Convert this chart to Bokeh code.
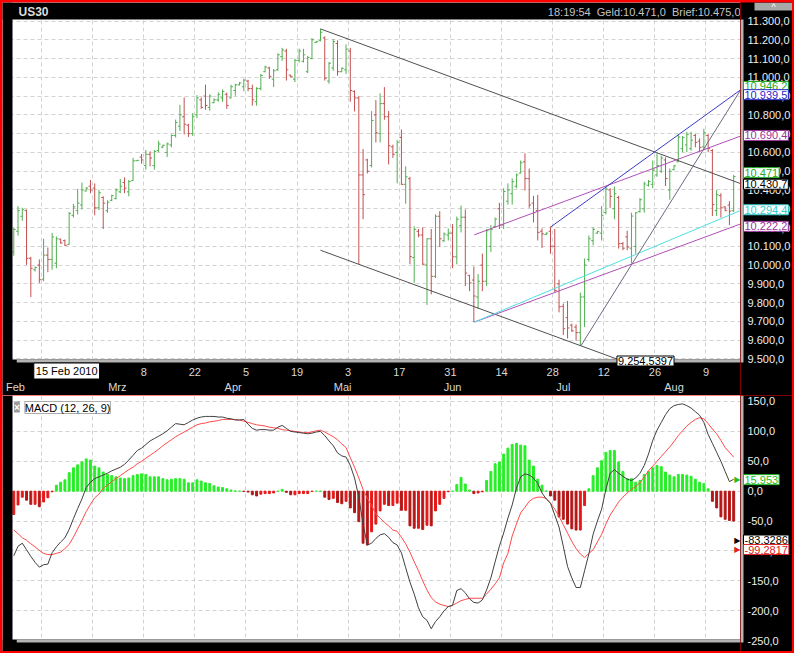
from bokeh.plotting import figure
from bokeh.models import ColumnDataSource, FixedTicker, Grid, Label, Range1d
from bokeh.layouts import column, row
from bokeh.embed import file_html
from bokeh.resources import INLINE
from bokeh.core.properties import value

FONT = "Liberation Sans"

# ---------------- data ----------------
bar_open = [
    10070, 10180, 10260, 10290, 10036, 9975, 10000, 9925, 10053, 10030,
    10010, 10138, 10130, 10110, 10265, 10290, 10320, 10395, 10420, 10410,
    10305, 10360, 10290, 10345, 10355, 10390, 10440, 10390, 10450, 10556,
    10575, 10530, 10590, 10530, 10610, 10628, 10600, 10640, 10690, 10740,
    10790, 10745, 10700, 10800, 10880, 10900, 10840, 10865, 10880, 10890,
    10910, 10890, 10930, 10960, 10950, 10980, 10940, 10870, 10940, 11030,
    11050, 10990, 11040, 11110, 11140, 11012, 10990, 11090, 11085, 11030,
    11100, 11185, 11195, 11210, 10980, 11050, 11180, 11030, 11040, 11140,
    10925, 10890, 10480, 10560, 10530, 10800, 10700, 10860, 10790, 10630,
    10600, 10680, 10430, 10460, 10040, 10180, 10160, 10000, 10140, 9940,
    10260, 10130, 10160, 10170, 10044, 10210, 10255, 9945, 9920, 9830,
    10000, 9914, 10100, 10205, 10300, 10213, 10340, 10380, 10420, 10490,
    10550, 10460, 10330, 10290, 10180, 10162, 10180, 10100, 9900, 9780,
    9720, 9680, 9670, 9640, 9830, 10030, 10130, 10170, 10170, 10280,
    10400, 10300, 10360, 10115, 10150, 10090, 10100, 10285, 10300, 10425,
    10430, 10480, 10500, 10560, 10400, 10508, 10550, 10620, 10640, 10620,
    10690, 10660, 10630, 10690, 10610, 10290, 10370, 10310, 10320, 10290,
]
bar_high = [
    10200, 10314, 10305, 10296, 10044, 9992, 10030, 10140, 10093, 10171,
    10152, 10140, 10136, 10282, 10326, 10406, 10439, 10415, 10453, 10435,
    10401, 10366, 10345, 10375, 10409, 10458, 10467, 10453, 10571, 10560,
    10592, 10613, 10606, 10613, 10662, 10641, 10653, 10696, 10775, 10853,
    10893, 10752, 10809, 10905, 10893, 10961, 10909, 10888, 10919, 10935,
    10919, 10961, 10966, 10975, 10992, 10987, 10961, 10948, 11018, 11062,
    11056, 11044, 11128, 11157, 11152, 11013, 11100, 11152, 11152, 11114,
    11209, 11192, 11258, 11218, 11082, 11204, 11197, 11053, 11175, 11157,
    10931, 10901, 10618, 10566, 10820, 10879, 10914, 10948, 10821, 10641,
    10665, 10722, 10526, 10470, 10206, 10192, 10201, 10143, 10192, 10270,
    10287, 10174, 10195, 10218, 10258, 10317, 10296, 9948, 9992, 9952,
    10061, 10192, 10213, 10253, 10331, 10409, 10435, 10461, 10488, 10557,
    10595, 10514, 10369, 10374, 10195, 10174, 10205, 10192, 9922, 9795,
    9809, 9688, 9684, 9853, 10035, 10157, 10201, 10183, 10314, 10418,
    10409, 10418, 10369, 10122, 10183, 10279, 10282, 10357, 10444, 10453,
    10557, 10595, 10583, 10574, 10514, 10534, 10696, 10687, 10710, 10710,
    10700, 10675, 10726, 10700, 10618, 10400, 10383, 10313, 10340, 10480,
]
bar_low = [
    10050, 10157, 10236, 10001, 9830, 9966, 9905, 9914, 9962, 9975,
    9983, 10114, 10102, 10109, 10253, 10270, 10296, 10392, 10383, 10265,
    10293, 10192, 10279, 10340, 10349, 10383, 10383, 10366, 10449, 10555,
    10540, 10508, 10526, 10508, 10601, 10623, 10575, 10627, 10679, 10714,
    10696, 10682, 10688, 10783, 10832, 10827, 10822, 10862, 10870, 10870,
    10832, 10888, 10902, 10957, 10926, 10926, 10849, 10849, 10931, 11027,
    10992, 10948, 11035, 11088, 10983, 11001, 10975, 11079, 11079, 11023,
    11096, 11183, 11192, 10983, 10966, 11035, 11009, 11027, 11018, 10870,
    10818, 10004, 10244, 10488, 10520, 10653, 10653, 10774, 10536, 10571,
    10435, 10427, 10327, 10004, 9905, 10148, 10001, 9788, 9844, 9931,
    10096, 10122, 10131, 9983, 10004, 10174, 9888, 9861, 9696, 9766,
    9861, 9888, 10070, 10201, 10192, 10192, 10322, 10322, 10409, 10488,
    10397, 10305, 10227, 10131, 10091, 10160, 10060, 9853, 9748, 9627,
    9609, 9644, 9597, 9569, 9670, 10018, 10105, 10166, 10131, 10270,
    10305, 10244, 10088, 10079, 10079, 10009, 10061, 10279, 10279, 10418,
    10409, 10470, 10491, 10421, 10348, 10505, 10548, 10601, 10601, 10609,
    10627, 10601, 10618, 10601, 10261, 10261, 10253, 10287, 10213, 10282,
]
bar_close = [
    10190, 10290, 10295, 10036, 9983, 9988, 9922, 10053, 10030, 10150,
    10140, 10118, 10105, 10275, 10310, 10330, 10400, 10410, 10400, 10305,
    10385, 10330, 10335, 10370, 10400, 10420, 10410, 10445, 10555, 10558,
    10560, 10590, 10570, 10605, 10645, 10638, 10645, 10690, 10760, 10800,
    10750, 10700, 10790, 10890, 10840, 10850, 10900, 10880, 10910, 10925,
    10850, 10950, 10960, 10970, 10985, 10940, 10880, 10940, 11010, 11055,
    11005, 11035, 11120, 11145, 11040, 11003, 11090, 11140, 11120, 11105,
    11200, 11190, 11240, 10995, 11075, 11190, 11030, 11048, 11150, 10930,
    10890, 10480, 10375, 10500, 10770, 10705, 10860, 10790, 10635, 10590,
    10655, 10430, 10470, 10045, 10190, 10160, 10005, 10140, 9940, 10260,
    10140, 10165, 10170, 10044, 10244, 10255, 9957, 9905, 9835, 9914,
    9914, 10183, 10190, 10245, 10213, 10392, 10400, 10444, 10480, 10545,
    10461, 10320, 10279, 10174, 10166, 10170, 10100, 9865, 9778, 9661,
    9665, 9650, 9640, 9830, 10000, 10140, 10190, 10178, 10265, 10405,
    10366, 10380, 10114, 10090, 10096, 10261, 10279, 10348, 10432, 10445,
    10505, 10530, 10570, 10461, 10500, 10528, 10682, 10679, 10696, 10665,
    10653, 10627, 10705, 10620, 10322, 10374, 10305, 10290, 10287, 10471,
]
macd_line = [
    -108, -92, -87, -98, -109, -119, -127, -123, -122, -103,
    -93, -85, -78, -64, -46, -29, -13, 6, 15, 21,
    24, 27, 30, 34, 37, 40, 45, 52, 60, 68,
    72, 78, 84, 88, 92, 96, 101, 107, 113, 112,
    111, 115, 119, 122, 124, 125, 125, 125, 124, 124,
    122, 121, 119, 119, 120, 112, 105, 102, 103, 103,
    102, 102, 107, 110, 105, 100, 99, 98, 97, 96,
    97, 99, 100, 93, 84, 76, 64, 59, 57, 43,
    22, -10, -55, -90, -87, -79, -73, -71, -77, -86,
    -90, -103, -128, -152, -172, -195, -210, -216, -230, -218,
    -210, -200, -193, -191, -166, -163, -170, -180, -186, -187,
    -182, -165, -145, -118, -92, -70, -45, -23, 5, 24,
    29, 27, 22, 13, -3, -13, -20, -40, -60, -92,
    -126, -145, -161, -161, -133, -105, -72, -50, -30, 3,
    30, 36, 30, 25, 20, 18, 22, 30, 43, 62,
    85, 102, 115, 128, 138, 143, 145, 146, 143, 139,
    133, 127, 115, 95, 80, 65, 50, 33, 16, 20,
]
signal_line = [
    -65, -71, -78, -82, -88, -93, -99, -104, -106, -106,
    -104, -102, -96, -89, -77, -63, -49, -34, -22, -11,
    -5, 5, 10, 16, 21, 26, 31, 36, 40, 46,
    50, 55, 60, 65, 70, 76, 81, 86, 91, 95,
    99, 103, 107, 111, 113, 114, 116, 117, 118, 120,
    120, 120, 120, 119, 117, 115, 113, 111, 110, 109,
    107, 106, 105, 103, 102, 101, 100, 99, 98, 98,
    99, 101, 102, 99, 95, 91, 86, 79, 73, 56,
    40, 22, 3, -12, -24, -38, -45, -52, -58, -65,
    -67, -77, -88, -102, -118, -133, -150, -165, -178, -185,
    -189, -191, -193, -191, -187, -183, -181, -179, -179, -179,
    -179, -172, -164, -155, -145, -120, -104, -75, -55, -36,
    -27, -17, -12, -10, -10, -12, -20, -30, -42, -56,
    -70, -84, -96, -105, -111, -104, -98, -85, -72, -55,
    -40, -29, -18, -10, -3, 3, 8, 14, 24, 34,
    42, 50, 58, 66, 74, 83, 93, 101, 109, 115,
    120, 123, 121, 113, 104, 96, 85, 73, 65, 57,
]
histogram = [
    -39, -23, -10, -15, -22, -22, -26, -18, -11, -1,
    10, 15, 19, 31, 39, 44, 49, 54, 52, 42,
    39, 32, 28, 26, 24, 22, 21, 22, 26, 28,
    29, 28, 24, 24, 24, 21, 19, 20, 21, 21,
    20, 14, 14, 19, 17, 14, 13, 9, 7, 6,
    4, 2, 0.5, 0, -0.5, -1.5, -6, -8, -5, -4,
    -4, -3, 0, 3, -2, -6, -6, -4, -4, -4,
    -0.5, 0, 0, -10, -14, -12, -19, -21, -17, -28,
    -36, -51, -87, -90, -68, -55, -33, -22, -24, -24,
    -20, -32, -32, -58, -62, -62, -64, -57, -58, -33,
    -22, -12, -1, 0, 11, 23, 12, 2, -4, -3,
    -1, 18, 33, 46, 49, 62, 72, 78, 80, 77,
    76, 52, 42, 20, 10, 0.5, -8, -15, -43, -47,
    -55, -63, -65, -65, -24, 4, 26, 39, 51, 65,
    68, 68, 49, 33, 21, 21, 15, 18, 28, 33,
    39, 43, 41, 32, 27, 24, 28, 28, 27, 25,
    20, 15, 13, 4, -17, -28, -43, -47, -49, -50,
]

# axis ticks and labels
day_tick_pos = [6.5 + 12 * k for k in range(14)]
day_tick_labels = ["8", "22", "8", "22", "5", "19", "3", "17", "31", "14", "28", "12", "26", "9"]
month_tick_pos = [0.4, 24.3, 51.5, 77.2, 103.0, 129.0, 155.0]
month_tick_labels = ["Feb", "Mrz", "Apr", "Mai", "Jun", "Jul", "Aug"]
price_ticks = list(range(9500, 11301, 100))
macd_ticks = list(range(-250, 151, 50))

# drawn trend lines (bar index, price)
upper_channel_x = [72, 171]
upper_channel_y = [11258, 10430.7]
lower_channel_x = [72, 171]
lower_channel_y = [10079, 9254.5397]
purple_upper_x = [108.1, 171]
purple_upper_y = [10161, 10690.4]
purple_lower_x = [108.1, 171]
purple_lower_y = [9696, 10222.2]
cyan_x = [108.1, 171]
cyan_y = [9696, 10294.4]
blue_x = [126.1, 171]
blue_y = [10204, 10939.5]
steep_x = [133.1, 171]
steep_y = [9569, 10946.2]

# value marks on the right scales: (value, text, colour, vertical nudge px)
price_marks = [
    (10946.2, "10.946,2", "#22aa22", 1),
    (10939.5, "10.939,5", "#2828c8", -6),
    (10690.4, "10.690,4", "#993399", 0),
    (10471.0, "10.471", "#22aa22", 4),
    (10430.7, "10.430,7", "#000000", 0),
    (10294.4, "10.294,4", "#33cccc", 0),
    (10222.2, "10.222,2", "#993399", -3),
]
macd_marks = [
    (15.953, "15,953", "#22bb22", 2),
    (-83.3286, "-83,3286", "#000000", 1),
    (-99.2817, "-99,2817", "#dd2222", 1),
]


def de(v, d=1):
    s = f"{v:,.{d}f}"
    return s.replace(",", "#").replace(".", ",").replace("#", ".")


# ---------------- geometry ----------------
LEFT_W, PLOT_W, AX_W = 10, 728, 52
TITLE_H, PRICE_H, BAND_H = 17, 340, 36
MACD_H, BOTTOM_H = 244, 12

X_LO, X_HI = -0.3, 170.6
PPB = PLOT_W / (X_HI - X_LO)
X_START = X_LO - LEFT_W / PPB
xr = Range1d(X_START, X_HI)

P_BOT, P_TOP = 9497, 11308
KP = (P_TOP - P_BOT) / PRICE_H
ya = Range1d(P_BOT - BAND_H * KP, P_TOP + TITLE_H * KP)

M_BOT, M_TOP = -248, 160
KM = (M_TOP - M_BOT) / MACD_H
yb = Range1d(M_BOT - BOTTOM_H * KM, M_TOP)

GRID = "#d2d2d2"
AXIS_GRAY = "#b4b4b4"
LABEL_COL = "#eeeeee"
TXT = dict(text_font=value(FONT), text_font_size="11px")


def base_fig(w, h, yrange, xrange, bg):
    f = figure(width=w, height=h, x_range=xrange, y_range=yrange, x_axis_type=None,
               y_axis_type=None, output_backend="svg", toolbar_location=None, min_border=0,
               background_fill_color=bg, border_fill_color="black", outline_line_color=None)
    return f


# ---------------- price panel ----------------
up_col, dn_col = "#4fae4f", "#c25050"
bar_index = list(range(len(bar_close)))
src = ColumnDataSource(dict(
    x=bar_index, o=bar_open, h=bar_high, l=bar_low, c=bar_close,
    xl=[i - 0.45 for i in bar_index], xr=[i + 0.45 for i in bar_index],
    color=[up_col if c >= o else dn_col for o, c in zip(bar_open, bar_close)],
))

p = base_fig(LEFT_W + PLOT_W, TITLE_H + PRICE_H + BAND_H, ya, xr, "white")
p.add_layout(Grid(dimension=0, ticker=FixedTicker(ticks=day_tick_pos),
                  grid_line_color=GRID, grid_line_dash="4 3"))
p.add_layout(Grid(dimension=1, ticker=FixedTicker(ticks=price_ticks),
                  grid_line_color=GRID, grid_line_dash="4 3"))

p.segment(x0="x", y0="l", x1="x", y1="h", color="color", line_width=1, source=src)
p.segment(x0="xl", y0="o", x1="x", y1="o", color="color", line_width=1, source=src)
p.segment(x0="x", y0="c", x1="xr", y1="c", color="color", line_width=1, source=src)

p.line(upper_channel_x, upper_channel_y, line_color="#505050", line_width=1)
p.line(lower_channel_x, lower_channel_y, line_color="#505050", line_width=1)
p.line(purple_upper_x, purple_upper_y, line_color="#b050b8", line_width=1)
p.line(purple_lower_x, purple_lower_y, line_color="#b050b8", line_width=1)
p.line(cyan_x, cyan_y, line_color="#50e0e0", line_width=1)
p.line(blue_x, blue_y, line_color="#3a3ac8", line_width=1)
p.line(steep_x, steep_y, line_color="#6a6a80", line_width=1)

# black title band, date band, left strip; gray bottom edge
p.quad(left=[X_START], right=[X_HI], bottom=[P_TOP], top=[ya.end], fill_color="black", line_color=None)
p.quad(left=[X_START], right=[X_HI], bottom=[ya.start], top=[P_BOT], fill_color="black", line_color=None)
p.quad(left=[X_START], right=[X_LO], bottom=[ya.start], top=[ya.end], fill_color="black", line_color=None)
p.quad(left=[X_LO + 1.0], right=[X_HI], bottom=[P_BOT - 3 * KP], top=[P_BOT], fill_color=AXIS_GRAY, line_color=None)

# title bar texts
p.text(x=[X_START + 16 / PPB], y=[P_TOP + 8 * KP], text=["US30"], text_font=value(FONT),
       text_font_size="12px", text_font_style="bold", text_color="#dddddd", text_baseline="middle")
p.text(x=[X_HI], y=[P_TOP + 8 * KP],
       text=["18:19:54\u00a0\u00a0Geld:10.471,0\u00a0\u00a0Brief:10.475,0"],
       text_color="#c4c4c4", text_baseline="middle", text_align="right", **TXT)

# date axis texts
p.text(x=day_tick_pos, y=[P_BOT - 12 * KP] * len(day_tick_pos), text=day_tick_labels,
       text_color="#d8d8d8", text_align="center", text_baseline="middle", **TXT)
p.text(x=month_tick_pos, y=[P_BOT - 27 * KP] * len(month_tick_pos), text=month_tick_labels,
       text_color="#d8d8d8", text_align="center", text_baseline="middle", **TXT)

p.add_layout(Label(x=4.7, y=P_BOT - 3.5 * KP, text="15 Feb 2010", text_align="left",
                   text_baseline="top", text_font=FONT, text_font_size="11px", text_color="black",
                   background_fill_color="white", border_line_color="black", padding=2))
p.add_layout(Label(x=141.6, y=P_BOT + 3.5 * KP, text="9.254,5397", text_align="left",
                   text_baseline="top", text_font=FONT, text_font_size="11px", text_color="black",
                   background_fill_color="white", border_line_color="black", padding=1))

# price scale column
pa = base_fig(AX_W, TITLE_H + PRICE_H + BAND_H, ya, Range1d(0, AX_W), "black")
pa.quad(left=[0], right=[3], bottom=[P_BOT - 3 * KP], top=[P_TOP], fill_color=AXIS_GRAY, line_color=None)
pa.text(x=[7] * len(price_ticks), y=price_ticks, text=[de(v) for v in price_ticks],
        text_color=LABEL_COL, text_baseline="middle", text_align="left", **TXT)
pa.quad(left=[14], right=[AX_W], bottom=[ya.end - 8 * KP], top=[ya.end], fill_color="#a8a8a8", line_color=None)
pa.text(x=[33], y=[ya.end - 4 * KP], text=["^"], text_font=value(FONT), text_font_size="9px",
        text_color="white", text_align="center", text_baseline="middle")
for v, txt, col, dy in price_marks:
    pa.add_layout(Label(x=3, y=v, text=txt, y_offset=dy, text_align="left",
                        text_baseline="middle", text_font=FONT, text_font_size="11px",
                        text_color=col, background_fill_color="white", border_line_color=col,
                        padding=1))

# ---------------- MACD panel ----------------
pos_col, neg_fall, neg_rise = "#26ee26", "#b41616", "#e81616"
hist_colors = []
for k, hv in enumerate(histogram):
    prev = histogram[k - 1] if k > 0 else hv
    if hv >= 0:
        hist_colors.append(pos_col)
    else:
        hist_colors.append(neg_fall if hv < prev else neg_rise)
hsrc = ColumnDataSource(dict(x=bar_index, top=histogram, color=hist_colors))

m = base_fig(LEFT_W + PLOT_W, MACD_H + BOTTOM_H, yb, xr, "white")
m.add_layout(Grid(dimension=0, ticker=FixedTicker(ticks=day_tick_pos),
                  grid_line_color=GRID, grid_line_dash="4 3"))
m.add_layout(Grid(dimension=1, ticker=FixedTicker(ticks=macd_ticks),
                  grid_line_color=GRID, grid_line_dash="4 3"))

m.vbar(x="x", top="top", bottom=0, width=0.45, color="color", source=hsrc)
m.line(bar_index, signal_line, line_color="#ff4a4a", line_width=1)
m.line(bar_index, macd_line, line_color="#404040", line_width=1)

m.quad(left=[X_START], right=[X_HI], bottom=[yb.start], top=[M_BOT], fill_color="black", line_color=None)
m.quad(left=[X_START], right=[X_LO], bottom=[yb.start], top=[yb.end], fill_color="black", line_color=None)
m.quad(left=[X_LO + 1.0], right=[X_HI], bottom=[M_BOT - 3 * KM], top=[M_BOT], fill_color=AXIS_GRAY, line_color=None)

for v, txt, col, dy in macd_marks:
    m.add_layout(Label(x=X_HI, y=v, text="\u25B6", y_offset=dy, text_align="right",
                       text_baseline="middle", text_font="DejaVu Sans", text_font_size="8px",
                       text_color=col))

m.add_layout(Label(x=0.05, y=M_TOP - 6 * KM, text="\u00d7", text_align="left", text_baseline="top",
                   text_font=FONT, text_font_size="10px", text_font_style="bold",
                   text_color="white", background_fill_color="#9a9a9a"))
m.add_layout(Label(x=2.6, y=M_TOP - 6 * KM, text="MACD (12, 26, 9)", text_align="left",
                   text_baseline="top", text_font=FONT, text_font_size="11px", text_color="black",
                   background_fill_color="white", border_line_color="#aaaaaa"))

ma = base_fig(AX_W, MACD_H + BOTTOM_H, yb, Range1d(0, AX_W), "black")
ma.quad(left=[0], right=[3], bottom=[M_BOT - 3 * KM], top=[M_TOP], fill_color=AXIS_GRAY, line_color=None)
ma.text(x=[7] * len(macd_ticks), y=macd_ticks, text=[de(v) for v in macd_ticks],
        text_color=LABEL_COL, text_baseline="middle", text_align="left", **TXT)
for v, txt, col, dy in macd_marks:
    ma.add_layout(Label(x=3, y=v, text=txt, y_offset=dy, text_align="left",
                        text_baseline="middle", text_font=FONT, text_font_size="11px",
                        text_color=col, background_fill_color="white", border_line_color=col,
                        padding=1))

row_a = row(p, pa, spacing=0, margin=(2, 2, 0, 2))
row_b = row(m, ma, spacing=0, margin=(0, 2, 2, 2))
layout = column(row_a, row_b, spacing=0, styles={"background-color": "#ff0000"})
open("out.html", "w").write(file_html(layout, INLINE))
